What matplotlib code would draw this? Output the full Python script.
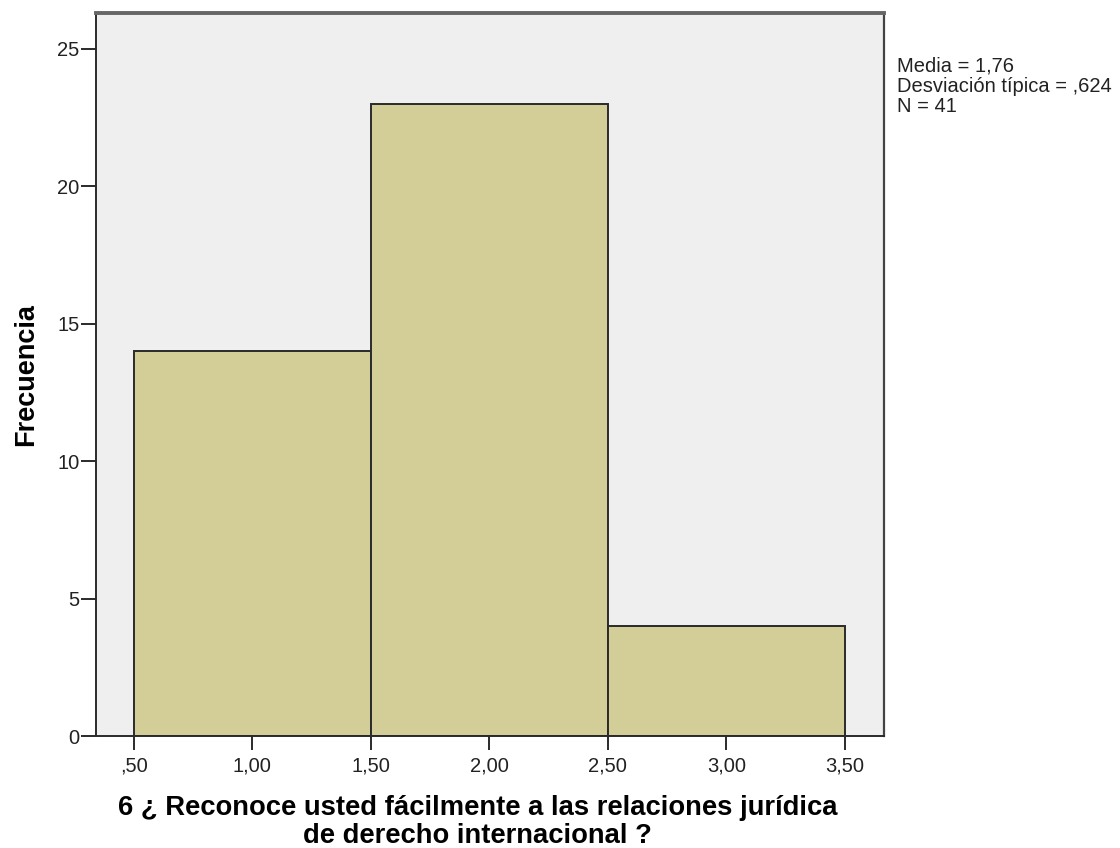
import numpy as np
import matplotlib.pyplot as plt

# histogram bins and counts
bin_edges = [0.5, 1.5, 2.5, 3.5]
counts = [14, 23, 4]
x_ticks = [0.5, 1.0, 1.5, 2.0, 2.5, 3.0, 3.5]
x_tick_labels = [',50', '1,00', '1,50', '2,00', '2,50', '3,00', '3,50']
y_ticks = [0, 5, 10, 15, 20, 25]
stats_text = 'Media = 1,76\nDesviación típica = ,624\nN = 41'

plt.rcParams['font.family'] = ['Liberation Sans', 'DejaVu Sans']

fig = plt.figure(figsize=(11.2, 8.48), dpi=100)
ax = fig.add_axes([96 / 1120, 1 - 736 / 848, 788 / 1120, 723 / 848])
ax.set_facecolor('#efefef')

widths = np.diff(bin_edges)
ax.bar(bin_edges[:-1], counts, width=widths, align='edge',
       color='#d3ce97', edgecolor='#2a2a2a', linewidth=1.4)

ax.set_xlim(0.34, 3.665)
ax.set_ylim(0, 26.3)
ax.set_xticks(x_ticks)
ax.set_xticklabels(x_tick_labels, fontsize=14.5, color='#222222')
ax.set_yticks(y_ticks)
ax.set_yticklabels([str(v) for v in y_ticks], fontsize=14.5, color='#222222')
ax.tick_params(axis='x', length=10, width=1.4, color='#2a2a2a', pad=5)
ax.tick_params(axis='y', length=11, width=1.4, color='#2a2a2a', pad=1)

for side in ['left', 'bottom']:
    ax.spines[side].set_linewidth(1.4)
    ax.spines[side].set_color('#2a2a2a')
ax.spines['right'].set_linewidth(1.6)
ax.spines['right'].set_color('#444444')
ax.spines['top'].set_linewidth(2.8)
ax.spines['top'].set_color('#666666')

ax.set_ylabel('Frecuencia', fontsize=19.5, fontweight='bold', labelpad=13)
ax.set_xlabel('6 ¿ Reconoce usted fácilmente a las relaciones jurídica\nde derecho internacional ?',
              fontsize=19.7, fontweight='bold', linespacing=1.1, labelpad=14)
# label sits a little left of the plot centre in the original
ax.xaxis.label.set_x(0.484)

fig.text(897 / 1120, 1 - 57 / 848, stats_text, fontsize=14.5, va='top', ha='left',
         color='#222222', linespacing=1.05)

fig.savefig('out.png', dpi=100)
